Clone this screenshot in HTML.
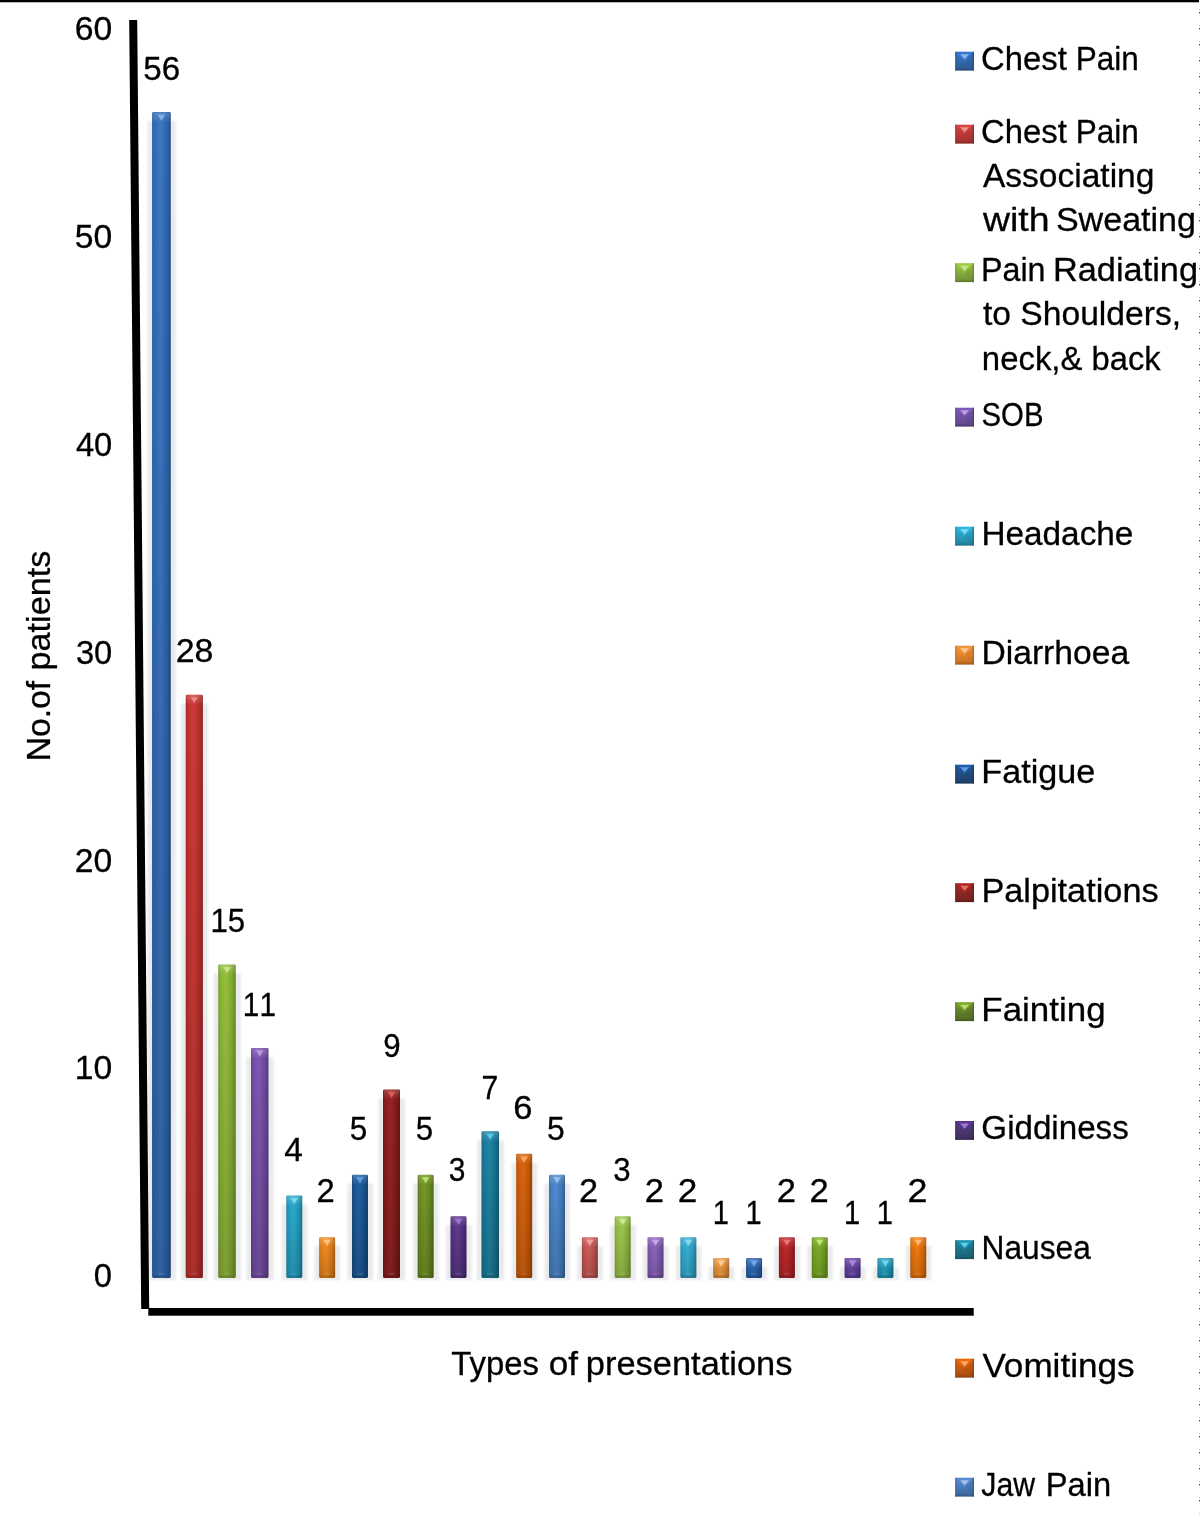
<!DOCTYPE html>
<html lang="en"><head><meta charset="utf-8"><title>Types of presentations</title>
<style>html,body{margin:0;padding:0;background:#fff}svg{display:block}</style></head>
<body>
<svg width="1200" height="1514" viewBox="0 0 1200 1514">
<defs>
<filter id="bl" x="-50%" y="-5%" width="200%" height="110%"><feGaussianBlur stdDeviation="1.3 1.1"/></filter>
<linearGradient id="g0" x1="0" y1="0" x2="1" y2="0"><stop offset="0" stop-color="#2a5d9e"/><stop offset="0.12" stop-color="#306ab5"/><stop offset="0.45" stop-color="#3b77c3"/><stop offset="0.8" stop-color="#2d63aa"/><stop offset="1" stop-color="#244f87"/></linearGradient>
<linearGradient id="g1" x1="0" y1="0" x2="1" y2="0"><stop offset="0" stop-color="#a72a27"/><stop offset="0.12" stop-color="#c0302d"/><stop offset="0.45" stop-color="#ce3b38"/><stop offset="0.8" stop-color="#b42d2a"/><stop offset="1" stop-color="#8f2422"/></linearGradient>
<linearGradient id="g2" x1="0" y1="0" x2="1" y2="0"><stop offset="0" stop-color="#789b2d"/><stop offset="0.12" stop-color="#89b234"/><stop offset="0.45" stop-color="#96c03f"/><stop offset="0.8" stop-color="#80a630"/><stop offset="1" stop-color="#668426"/></linearGradient>
<linearGradient id="g3" x1="0" y1="0" x2="1" y2="0"><stop offset="0" stop-color="#654290"/><stop offset="0.12" stop-color="#744ca5"/><stop offset="0.45" stop-color="#8058b3"/><stop offset="0.8" stop-color="#6c479b"/><stop offset="1" stop-color="#56397b"/></linearGradient>
<linearGradient id="g4" x1="0" y1="0" x2="1" y2="0"><stop offset="0" stop-color="#1e8aa8"/><stop offset="0.12" stop-color="#229ec1"/><stop offset="0.45" stop-color="#2dabcf"/><stop offset="0.8" stop-color="#2094b4"/><stop offset="1" stop-color="#197690"/></linearGradient>
<linearGradient id="g5" x1="0" y1="0" x2="1" y2="0"><stop offset="0" stop-color="#c97116"/><stop offset="0.12" stop-color="#e68219"/><stop offset="0.45" stop-color="#f58f24"/><stop offset="0.8" stop-color="#d87918"/><stop offset="1" stop-color="#ac6113"/></linearGradient>
<linearGradient id="g6" x1="0" y1="0" x2="1" y2="0"><stop offset="0" stop-color="#154a7f"/><stop offset="0.12" stop-color="#185592"/><stop offset="0.45" stop-color="#23619f"/><stop offset="0.8" stop-color="#174f88"/><stop offset="1" stop-color="#123f6c"/></linearGradient>
<linearGradient id="g7" x1="0" y1="0" x2="1" y2="0"><stop offset="0" stop-color="#791818"/><stop offset="0.12" stop-color="#8a1b1b"/><stop offset="0.45" stop-color="#972626"/><stop offset="0.8" stop-color="#811a1a"/><stop offset="1" stop-color="#671414"/></linearGradient>
<linearGradient id="g8" x1="0" y1="0" x2="1" y2="0"><stop offset="0" stop-color="#5d7b1c"/><stop offset="0.12" stop-color="#6a8d20"/><stop offset="0.45" stop-color="#779a2b"/><stop offset="0.8" stop-color="#63841e"/><stop offset="1" stop-color="#4f6918"/></linearGradient>
<linearGradient id="g9" x1="0" y1="0" x2="1" y2="0"><stop offset="0" stop-color="#492b72"/><stop offset="0.12" stop-color="#543183"/><stop offset="0.45" stop-color="#603c90"/><stop offset="0.8" stop-color="#4e2e7a"/><stop offset="1" stop-color="#3e2461"/></linearGradient>
<linearGradient id="g10" x1="0" y1="0" x2="1" y2="0"><stop offset="0" stop-color="#146b85"/><stop offset="0.12" stop-color="#187a98"/><stop offset="0.45" stop-color="#2287a6"/><stop offset="0.8" stop-color="#16728f"/><stop offset="1" stop-color="#125b71"/></linearGradient>
<linearGradient id="g11" x1="0" y1="0" x2="1" y2="0"><stop offset="0" stop-color="#b45007"/><stop offset="0.12" stop-color="#ce5b08"/><stop offset="0.45" stop-color="#dc6712"/><stop offset="0.8" stop-color="#c15507"/><stop offset="1" stop-color="#994406"/></linearGradient>
<linearGradient id="g12" x1="0" y1="0" x2="1" y2="0"><stop offset="0" stop-color="#3c70aa"/><stop offset="0.12" stop-color="#4580c3"/><stop offset="0.45" stop-color="#508dd1"/><stop offset="0.8" stop-color="#4078b6"/><stop offset="1" stop-color="#335f91"/></linearGradient>
<linearGradient id="g13" x1="0" y1="0" x2="1" y2="0"><stop offset="0" stop-color="#aa4a46"/><stop offset="0.12" stop-color="#c35550"/><stop offset="0.45" stop-color="#d1615c"/><stop offset="0.8" stop-color="#b64f4b"/><stop offset="1" stop-color="#913f3b"/></linearGradient>
<linearGradient id="g14" x1="0" y1="0" x2="1" y2="0"><stop offset="0" stop-color="#82a53a"/><stop offset="0.12" stop-color="#95bd43"/><stop offset="0.45" stop-color="#a2cb4e"/><stop offset="0.8" stop-color="#8bb13e"/><stop offset="1" stop-color="#6f8d32"/></linearGradient>
<linearGradient id="g15" x1="0" y1="0" x2="1" y2="0"><stop offset="0" stop-color="#72509d"/><stop offset="0.12" stop-color="#835bb4"/><stop offset="0.45" stop-color="#9067c2"/><stop offset="0.8" stop-color="#7a55a8"/><stop offset="1" stop-color="#614486"/></linearGradient>
<linearGradient id="g16" x1="0" y1="0" x2="1" y2="0"><stop offset="0" stop-color="#2891b0"/><stop offset="0.12" stop-color="#2ea6ca"/><stop offset="0.45" stop-color="#39b4d9"/><stop offset="0.8" stop-color="#2b9cbd"/><stop offset="1" stop-color="#227c96"/></linearGradient>
<linearGradient id="g17" x1="0" y1="0" x2="1" y2="0"><stop offset="0" stop-color="#ca7e30"/><stop offset="0.12" stop-color="#e79137"/><stop offset="0.45" stop-color="#f69e42"/><stop offset="0.8" stop-color="#d88833"/><stop offset="1" stop-color="#ac6c29"/></linearGradient>
<linearGradient id="g18" x1="0" y1="0" x2="1" y2="0"><stop offset="0" stop-color="#215496"/><stop offset="0.12" stop-color="#2661ac"/><stop offset="0.45" stop-color="#316dba"/><stop offset="0.8" stop-color="#235ba1"/><stop offset="1" stop-color="#1c4880"/></linearGradient>
<linearGradient id="g19" x1="0" y1="0" x2="1" y2="0"><stop offset="0" stop-color="#9d1d1e"/><stop offset="0.12" stop-color="#b42123"/><stop offset="0.45" stop-color="#c22c2e"/><stop offset="0.8" stop-color="#a81f21"/><stop offset="1" stop-color="#86181a"/></linearGradient>
<linearGradient id="g20" x1="0" y1="0" x2="1" y2="0"><stop offset="0" stop-color="#668f1c"/><stop offset="0.12" stop-color="#75a420"/><stop offset="0.45" stop-color="#81b12b"/><stop offset="0.8" stop-color="#6d991e"/><stop offset="1" stop-color="#577a18"/></linearGradient>
<linearGradient id="g21" x1="0" y1="0" x2="1" y2="0"><stop offset="0" stop-color="#553589"/><stop offset="0.12" stop-color="#623d9d"/><stop offset="0.45" stop-color="#6e49ab"/><stop offset="0.8" stop-color="#5c3993"/><stop offset="1" stop-color="#492e75"/></linearGradient>
<linearGradient id="g22" x1="0" y1="0" x2="1" y2="0"><stop offset="0" stop-color="#1983a0"/><stop offset="0.12" stop-color="#1c96b7"/><stop offset="0.45" stop-color="#27a4c5"/><stop offset="0.8" stop-color="#1a8dac"/><stop offset="1" stop-color="#157088"/></linearGradient>
<linearGradient id="g23" x1="0" y1="0" x2="1" y2="0"><stop offset="0" stop-color="#ca6407"/><stop offset="0.12" stop-color="#e77308"/><stop offset="0.45" stop-color="#f67f12"/><stop offset="0.8" stop-color="#d86b07"/><stop offset="1" stop-color="#ac5506"/></linearGradient>
<linearGradient id="vd" x1="0" y1="0" x2="0" y2="1"><stop offset="0" stop-color="#000" stop-opacity="0"/><stop offset="0.15" stop-color="#000" stop-opacity="0.02"/><stop offset="1" stop-color="#000" stop-opacity="0.17"/></linearGradient>
<linearGradient id="tf" x1="0" y1="0" x2="0" y2="1"><stop offset="0" stop-color="#fff" stop-opacity="0.2"/><stop offset="1" stop-color="#fff" stop-opacity="0"/></linearGradient>
<filter id="sb2" x="-30%" y="-30%" width="160%" height="160%"><feGaussianBlur stdDeviation="0.75"/></filter>
<filter id="sb" x="-30%" y="-30%" width="160%" height="160%"><feGaussianBlur stdDeviation="0.7"/></filter>
</defs>
<rect width="1200" height="1514" fill="#fff"/>
<rect x="0" y="0" width="1199" height="2.3" fill="#000"/>
<g><rect x="1199" y="9" width="1" height="1" fill="#9ed9cc"/><rect x="1199" y="12" width="1" height="1.2" fill="#5e1f40"/><rect x="1199" y="25" width="1" height="1" fill="#9ed9cc"/><rect x="1199" y="28" width="1" height="1.2" fill="#5e1f40"/><rect x="1199" y="41" width="1" height="1" fill="#9ed9cc"/><rect x="1199" y="44" width="1" height="1.2" fill="#5e1f40"/><rect x="1199" y="57" width="1" height="1" fill="#9ed9cc"/><rect x="1199" y="60" width="1" height="1.2" fill="#5e1f40"/><rect x="1199" y="73" width="1" height="1" fill="#9ed9cc"/><rect x="1199" y="76" width="1" height="1.2" fill="#5e1f40"/><rect x="1199" y="89" width="1" height="1" fill="#9ed9cc"/><rect x="1199" y="92" width="1" height="1.2" fill="#5e1f40"/><rect x="1199" y="105" width="1" height="1" fill="#9ed9cc"/><rect x="1199" y="108" width="1" height="1.2" fill="#5e1f40"/><rect x="1199" y="121" width="1" height="1" fill="#9ed9cc"/><rect x="1199" y="124" width="1" height="1.2" fill="#5e1f40"/><rect x="1199" y="137" width="1" height="1" fill="#9ed9cc"/><rect x="1199" y="140" width="1" height="1.2" fill="#5e1f40"/><rect x="1199" y="153" width="1" height="1" fill="#9ed9cc"/><rect x="1199" y="156" width="1" height="1.2" fill="#5e1f40"/><rect x="1199" y="169" width="1" height="1" fill="#9ed9cc"/><rect x="1199" y="172" width="1" height="1.2" fill="#5e1f40"/><rect x="1199" y="185" width="1" height="1" fill="#9ed9cc"/><rect x="1199" y="188" width="1" height="1.2" fill="#5e1f40"/><rect x="1199" y="201" width="1" height="1" fill="#9ed9cc"/><rect x="1199" y="204" width="1" height="1.2" fill="#5e1f40"/><rect x="1199" y="217" width="1" height="1" fill="#9ed9cc"/><rect x="1199" y="220" width="1" height="1.2" fill="#5e1f40"/><rect x="1199" y="233" width="1" height="1" fill="#9ed9cc"/><rect x="1199" y="236" width="1" height="1.2" fill="#5e1f40"/><rect x="1199" y="249" width="1" height="1" fill="#9ed9cc"/><rect x="1199" y="252" width="1" height="1.2" fill="#5e1f40"/><rect x="1199" y="265" width="1" height="1" fill="#9ed9cc"/><rect x="1199" y="268" width="1" height="1.2" fill="#5e1f40"/><rect x="1199" y="281" width="1" height="1" fill="#9ed9cc"/><rect x="1199" y="284" width="1" height="1.2" fill="#5e1f40"/><rect x="1199" y="297" width="1" height="1" fill="#9ed9cc"/><rect x="1199" y="300" width="1" height="1.2" fill="#5e1f40"/><rect x="1199" y="313" width="1" height="1" fill="#9ed9cc"/><rect x="1199" y="316" width="1" height="1.2" fill="#5e1f40"/><rect x="1199" y="329" width="1" height="1" fill="#9ed9cc"/><rect x="1199" y="332" width="1" height="1.2" fill="#5e1f40"/><rect x="1199" y="345" width="1" height="1" fill="#9ed9cc"/><rect x="1199" y="348" width="1" height="1.2" fill="#5e1f40"/><rect x="1199" y="361" width="1" height="1" fill="#9ed9cc"/><rect x="1199" y="364" width="1" height="1.2" fill="#5e1f40"/><rect x="1199" y="377" width="1" height="1" fill="#9ed9cc"/><rect x="1199" y="380" width="1" height="1.2" fill="#5e1f40"/><rect x="1199" y="393" width="1" height="1" fill="#9ed9cc"/><rect x="1199" y="396" width="1" height="1.2" fill="#5e1f40"/><rect x="1199" y="409" width="1" height="1" fill="#9ed9cc"/><rect x="1199" y="412" width="1" height="1.2" fill="#5e1f40"/><rect x="1199" y="425" width="1" height="1" fill="#9ed9cc"/><rect x="1199" y="428" width="1" height="1.2" fill="#5e1f40"/><rect x="1199" y="441" width="1" height="1" fill="#9ed9cc"/><rect x="1199" y="444" width="1" height="1.2" fill="#5e1f40"/><rect x="1199" y="457" width="1" height="1" fill="#9ed9cc"/><rect x="1199" y="460" width="1" height="1.2" fill="#5e1f40"/><rect x="1199" y="473" width="1" height="1" fill="#9ed9cc"/><rect x="1199" y="476" width="1" height="1.2" fill="#5e1f40"/><rect x="1199" y="489" width="1" height="1" fill="#9ed9cc"/><rect x="1199" y="492" width="1" height="1.2" fill="#5e1f40"/><rect x="1199" y="505" width="1" height="1" fill="#9ed9cc"/><rect x="1199" y="508" width="1" height="1.2" fill="#5e1f40"/><rect x="1199" y="521" width="1" height="1" fill="#9ed9cc"/><rect x="1199" y="524" width="1" height="1.2" fill="#5e1f40"/><rect x="1199" y="537" width="1" height="1" fill="#9ed9cc"/><rect x="1199" y="540" width="1" height="1.2" fill="#5e1f40"/><rect x="1199" y="553" width="1" height="1" fill="#9ed9cc"/><rect x="1199" y="556" width="1" height="1.2" fill="#5e1f40"/><rect x="1199" y="569" width="1" height="1" fill="#9ed9cc"/><rect x="1199" y="572" width="1" height="1.2" fill="#5e1f40"/><rect x="1199" y="585" width="1" height="1" fill="#9ed9cc"/><rect x="1199" y="588" width="1" height="1.2" fill="#5e1f40"/><rect x="1199" y="601" width="1" height="1" fill="#9ed9cc"/><rect x="1199" y="604" width="1" height="1.2" fill="#5e1f40"/><rect x="1199" y="617" width="1" height="1" fill="#9ed9cc"/><rect x="1199" y="620" width="1" height="1.2" fill="#5e1f40"/><rect x="1199" y="633" width="1" height="1" fill="#9ed9cc"/><rect x="1199" y="636" width="1" height="1.2" fill="#5e1f40"/><rect x="1199" y="649" width="1" height="1" fill="#9ed9cc"/><rect x="1199" y="652" width="1" height="1.2" fill="#5e1f40"/><rect x="1199" y="665" width="1" height="1" fill="#9ed9cc"/><rect x="1199" y="668" width="1" height="1.2" fill="#5e1f40"/><rect x="1199" y="681" width="1" height="1" fill="#9ed9cc"/><rect x="1199" y="684" width="1" height="1.2" fill="#5e1f40"/><rect x="1199" y="697" width="1" height="1" fill="#9ed9cc"/><rect x="1199" y="700" width="1" height="1.2" fill="#5e1f40"/><rect x="1199" y="713" width="1" height="1" fill="#9ed9cc"/><rect x="1199" y="716" width="1" height="1.2" fill="#5e1f40"/><rect x="1199" y="729" width="1" height="1" fill="#9ed9cc"/><rect x="1199" y="732" width="1" height="1.2" fill="#5e1f40"/><rect x="1199" y="745" width="1" height="1" fill="#9ed9cc"/><rect x="1199" y="748" width="1" height="1.2" fill="#5e1f40"/><rect x="1199" y="761" width="1" height="1" fill="#9ed9cc"/><rect x="1199" y="764" width="1" height="1.2" fill="#5e1f40"/><rect x="1199" y="777" width="1" height="1" fill="#9ed9cc"/><rect x="1199" y="780" width="1" height="1.2" fill="#5e1f40"/><rect x="1199" y="793" width="1" height="1" fill="#9ed9cc"/><rect x="1199" y="796" width="1" height="1.2" fill="#5e1f40"/><rect x="1199" y="809" width="1" height="1" fill="#9ed9cc"/><rect x="1199" y="812" width="1" height="1.2" fill="#5e1f40"/><rect x="1199" y="825" width="1" height="1" fill="#9ed9cc"/><rect x="1199" y="828" width="1" height="1.2" fill="#5e1f40"/><rect x="1199" y="841" width="1" height="1" fill="#9ed9cc"/><rect x="1199" y="844" width="1" height="1.2" fill="#5e1f40"/><rect x="1199" y="857" width="1" height="1" fill="#9ed9cc"/><rect x="1199" y="860" width="1" height="1.2" fill="#5e1f40"/><rect x="1199" y="873" width="1" height="1" fill="#9ed9cc"/><rect x="1199" y="876" width="1" height="1.2" fill="#5e1f40"/><rect x="1199" y="889" width="1" height="1" fill="#9ed9cc"/><rect x="1199" y="892" width="1" height="1.2" fill="#5e1f40"/><rect x="1199" y="905" width="1" height="1" fill="#9ed9cc"/><rect x="1199" y="908" width="1" height="1.2" fill="#5e1f40"/><rect x="1199" y="921" width="1" height="1" fill="#9ed9cc"/><rect x="1199" y="924" width="1" height="1.2" fill="#5e1f40"/><rect x="1199" y="937" width="1" height="1" fill="#9ed9cc"/><rect x="1199" y="940" width="1" height="1.2" fill="#5e1f40"/><rect x="1199" y="953" width="1" height="1" fill="#9ed9cc"/><rect x="1199" y="956" width="1" height="1.2" fill="#5e1f40"/><rect x="1199" y="969" width="1" height="1" fill="#9ed9cc"/><rect x="1199" y="972" width="1" height="1.2" fill="#5e1f40"/><rect x="1199" y="985" width="1" height="1" fill="#9ed9cc"/><rect x="1199" y="988" width="1" height="1.2" fill="#5e1f40"/><rect x="1199" y="1001" width="1" height="1" fill="#9ed9cc"/><rect x="1199" y="1004" width="1" height="1.2" fill="#5e1f40"/><rect x="1199" y="1017" width="1" height="1" fill="#9ed9cc"/><rect x="1199" y="1020" width="1" height="1.2" fill="#5e1f40"/><rect x="1199" y="1033" width="1" height="1" fill="#9ed9cc"/><rect x="1199" y="1036" width="1" height="1.2" fill="#5e1f40"/><rect x="1199" y="1049" width="1" height="1" fill="#9ed9cc"/><rect x="1199" y="1052" width="1" height="1.2" fill="#5e1f40"/><rect x="1199" y="1065" width="1" height="1" fill="#9ed9cc"/><rect x="1199" y="1068" width="1" height="1.2" fill="#5e1f40"/><rect x="1199" y="1081" width="1" height="1" fill="#9ed9cc"/><rect x="1199" y="1084" width="1" height="1.2" fill="#5e1f40"/><rect x="1199" y="1097" width="1" height="1" fill="#9ed9cc"/><rect x="1199" y="1100" width="1" height="1.2" fill="#5e1f40"/><rect x="1199" y="1113" width="1" height="1" fill="#9ed9cc"/><rect x="1199" y="1116" width="1" height="1.2" fill="#5e1f40"/><rect x="1199" y="1129" width="1" height="1" fill="#9ed9cc"/><rect x="1199" y="1132" width="1" height="1.2" fill="#5e1f40"/><rect x="1199" y="1145" width="1" height="1" fill="#9ed9cc"/><rect x="1199" y="1148" width="1" height="1.2" fill="#5e1f40"/><rect x="1199" y="1161" width="1" height="1" fill="#9ed9cc"/><rect x="1199" y="1164" width="1" height="1.2" fill="#5e1f40"/><rect x="1199" y="1177" width="1" height="1" fill="#9ed9cc"/><rect x="1199" y="1180" width="1" height="1.2" fill="#5e1f40"/><rect x="1199" y="1193" width="1" height="1" fill="#9ed9cc"/><rect x="1199" y="1196" width="1" height="1.2" fill="#5e1f40"/><rect x="1199" y="1209" width="1" height="1" fill="#9ed9cc"/><rect x="1199" y="1212" width="1" height="1.2" fill="#5e1f40"/><rect x="1199" y="1225" width="1" height="1" fill="#9ed9cc"/><rect x="1199" y="1228" width="1" height="1.2" fill="#5e1f40"/><rect x="1199" y="1241" width="1" height="1" fill="#9ed9cc"/><rect x="1199" y="1244" width="1" height="1.2" fill="#5e1f40"/><rect x="1199" y="1257" width="1" height="1" fill="#9ed9cc"/><rect x="1199" y="1260" width="1" height="1.2" fill="#5e1f40"/><rect x="1199" y="1273" width="1" height="1" fill="#9ed9cc"/><rect x="1199" y="1276" width="1" height="1.2" fill="#5e1f40"/><rect x="1199" y="1289" width="1" height="1" fill="#9ed9cc"/><rect x="1199" y="1292" width="1" height="1.2" fill="#5e1f40"/><rect x="1199" y="1305" width="1" height="1" fill="#9ed9cc"/><rect x="1199" y="1308" width="1" height="1.2" fill="#5e1f40"/><rect x="1199" y="1321" width="1" height="1" fill="#9ed9cc"/><rect x="1199" y="1324" width="1" height="1.2" fill="#5e1f40"/><rect x="1199" y="1337" width="1" height="1" fill="#9ed9cc"/><rect x="1199" y="1340" width="1" height="1.2" fill="#5e1f40"/><rect x="1199" y="1353" width="1" height="1" fill="#9ed9cc"/><rect x="1199" y="1356" width="1" height="1.2" fill="#5e1f40"/><rect x="1199" y="1369" width="1" height="1" fill="#9ed9cc"/><rect x="1199" y="1372" width="1" height="1.2" fill="#5e1f40"/><rect x="1199" y="1385" width="1" height="1" fill="#9ed9cc"/><rect x="1199" y="1388" width="1" height="1.2" fill="#5e1f40"/><rect x="1199" y="1401" width="1" height="1" fill="#9ed9cc"/><rect x="1199" y="1404" width="1" height="1.2" fill="#5e1f40"/><rect x="1199" y="1417" width="1" height="1" fill="#9ed9cc"/><rect x="1199" y="1420" width="1" height="1.2" fill="#5e1f40"/><rect x="1199" y="1433" width="1" height="1" fill="#9ed9cc"/><rect x="1199" y="1436" width="1" height="1.2" fill="#5e1f40"/><rect x="1199" y="1449" width="1" height="1" fill="#9ed9cc"/><rect x="1199" y="1452" width="1" height="1.2" fill="#5e1f40"/><rect x="1199" y="1465" width="1" height="1" fill="#9ed9cc"/><rect x="1199" y="1468" width="1" height="1.2" fill="#5e1f40"/><rect x="1199" y="1481" width="1" height="1" fill="#9ed9cc"/><rect x="1199" y="1484" width="1" height="1.2" fill="#5e1f40"/><rect x="1199" y="1497" width="1" height="1" fill="#9ed9cc"/><rect x="1199" y="1500" width="1" height="1.2" fill="#5e1f40"/><rect x="1199" y="1513" width="1" height="1" fill="#9ed9cc"/><rect x="1199" y="1516" width="1" height="1.2" fill="#5e1f40"/></g>
<g filter="url(#bl)" fill="#e9eaec">
<rect x="147.60" y="121.10" width="28.20" height="1159.10"/>
<rect x="181.20" y="703.70" width="26.70" height="576.50"/>
<rect x="213.75" y="973.40" width="27.00" height="306.80"/>
<rect x="246.50" y="1057.00" width="27.00" height="223.20"/>
<rect x="281.80" y="1204.47" width="25.50" height="75.73"/>
<rect x="314.64" y="1246.13" width="25.50" height="34.07"/>
<rect x="347.48" y="1183.63" width="25.50" height="96.57"/>
<rect x="378.50" y="1098.40" width="26.50" height="181.80"/>
<rect x="413.16" y="1183.63" width="25.50" height="96.57"/>
<rect x="446.00" y="1225.30" width="25.50" height="54.90"/>
<rect x="477.00" y="1140.20" width="27.00" height="140.00"/>
<rect x="511.68" y="1162.80" width="25.50" height="117.40"/>
<rect x="544.52" y="1183.63" width="25.50" height="96.57"/>
<rect x="577.36" y="1246.13" width="25.50" height="34.07"/>
<rect x="610.20" y="1225.30" width="25.50" height="54.90"/>
<rect x="643.04" y="1246.13" width="25.50" height="34.07"/>
<rect x="675.88" y="1246.13" width="25.50" height="34.07"/>
<rect x="708.72" y="1266.97" width="25.50" height="13.23"/>
<rect x="741.56" y="1266.97" width="25.50" height="13.23"/>
<rect x="774.40" y="1246.13" width="25.50" height="34.07"/>
<rect x="807.24" y="1246.13" width="25.50" height="34.07"/>
<rect x="840.08" y="1266.97" width="25.50" height="13.23"/>
<rect x="872.92" y="1266.97" width="25.50" height="13.23"/>
<rect x="905.76" y="1246.13" width="25.50" height="34.07"/>
</g>
<path d="M153.50 112.10 H169.40 Q170.80 112.10 170.80 113.50 V1276.60 Q170.80 1278.00 169.40 1278.00 H153.50 Q152.10 1278.00 152.10 1276.60 V113.50 Q152.10 112.10 153.50 112.10 Z" fill="url(#g0)"/>
<path d="M153.50 112.10 H169.40 Q170.80 112.10 170.80 113.50 V1276.60 Q170.80 1278.00 169.40 1278.00 H153.50 Q152.10 1278.00 152.10 1276.60 V113.50 Q152.10 112.10 153.50 112.10 Z" fill="url(#vd)"/>
<rect x="152.70" y="112.50" width="17.50" height="10.00" fill="url(#tf)"/>
<path d="M157.65 114.70 L165.25 114.70 L161.45 120.70 Z" fill="#89b5ed" opacity="0.9" filter="url(#sb2)"/>
<rect x="158.45" y="1273.40" width="6" height="1" fill="#fff" opacity="0.18"/>
<rect x="152.90" y="1275.60" width="17.10" height="2.0" fill="#1f4474" opacity="0.45"/>
<path d="M187.10 694.70 H201.50 Q202.90 694.70 202.90 696.10 V1276.60 Q202.90 1278.00 201.50 1278.00 H187.10 Q185.70 1278.00 185.70 1276.60 V696.10 Q185.70 694.70 187.10 694.70 Z" fill="url(#g1)"/>
<path d="M187.10 694.70 H201.50 Q202.90 694.70 202.90 696.10 V1276.60 Q202.90 1278.00 201.50 1278.00 H187.10 Q185.70 1278.00 185.70 1276.60 V696.10 Q185.70 694.70 187.10 694.70 Z" fill="url(#vd)"/>
<rect x="186.30" y="695.10" width="16.00" height="10.00" fill="url(#tf)"/>
<path d="M190.50 697.30 L198.10 697.30 L194.30 703.30 Z" fill="#f08e8c" opacity="0.9" filter="url(#sb2)"/>
<rect x="191.30" y="1273.40" width="6" height="1" fill="#fff" opacity="0.18"/>
<rect x="186.50" y="1275.60" width="15.60" height="2.0" fill="#7a1f1d" opacity="0.45"/>
<path d="M219.65 964.40 H234.35 Q235.75 964.40 235.75 965.80 V1276.60 Q235.75 1278.00 234.35 1278.00 H219.65 Q218.25 1278.00 218.25 1276.60 V965.80 Q218.25 964.40 219.65 964.40 Z" fill="url(#g2)"/>
<path d="M219.65 964.40 H234.35 Q235.75 964.40 235.75 965.80 V1276.60 Q235.75 1278.00 234.35 1278.00 H219.65 Q218.25 1278.00 218.25 1276.60 V965.80 Q218.25 964.40 219.65 964.40 Z" fill="url(#vd)"/>
<rect x="218.85" y="964.80" width="16.30" height="10.00" fill="url(#tf)"/>
<path d="M223.20 967.00 L230.80 967.00 L227.00 973.00 Z" fill="#cceb8c" opacity="0.9" filter="url(#sb2)"/>
<rect x="224.00" y="1273.40" width="6" height="1" fill="#fff" opacity="0.18"/>
<rect x="219.05" y="1275.60" width="15.90" height="2.0" fill="#587121" opacity="0.45"/>
<path d="M252.40 1048.00 H267.10 Q268.50 1048.00 268.50 1049.40 V1276.60 Q268.50 1278.00 267.10 1278.00 H252.40 Q251.00 1278.00 251.00 1276.60 V1049.40 Q251.00 1048.00 252.40 1048.00 Z" fill="url(#g3)"/>
<path d="M252.40 1048.00 H267.10 Q268.50 1048.00 268.50 1049.40 V1276.60 Q268.50 1278.00 267.10 1278.00 H252.40 Q251.00 1278.00 251.00 1276.60 V1049.40 Q251.00 1048.00 252.40 1048.00 Z" fill="url(#vd)"/>
<rect x="251.60" y="1048.40" width="16.30" height="10.00" fill="url(#tf)"/>
<path d="M255.95 1050.60 L263.55 1050.60 L259.75 1056.60 Z" fill="#bc9ee1" opacity="0.9" filter="url(#sb2)"/>
<rect x="256.75" y="1273.40" width="6" height="1" fill="#fff" opacity="0.18"/>
<rect x="251.80" y="1275.60" width="15.90" height="2.0" fill="#4a316a" opacity="0.45"/>
<path d="M287.70 1195.47 H300.90 Q302.30 1195.47 302.30 1196.87 V1276.60 Q302.30 1278.00 300.90 1278.00 H287.70 Q286.30 1278.00 286.30 1276.60 V1196.87 Q286.30 1195.47 287.70 1195.47 Z" fill="url(#g4)"/>
<path d="M287.70 1195.47 H300.90 Q302.30 1195.47 302.30 1196.87 V1276.60 Q302.30 1278.00 300.90 1278.00 H287.70 Q286.30 1278.00 286.30 1276.60 V1196.87 Q286.30 1195.47 287.70 1195.47 Z" fill="url(#vd)"/>
<rect x="286.90" y="1195.87" width="14.80" height="10.00" fill="url(#tf)"/>
<path d="M290.50 1198.07 L298.10 1198.07 L294.30 1204.07 Z" fill="#7fdbf4" opacity="0.9" filter="url(#sb2)"/>
<rect x="291.30" y="1273.40" width="6" height="1" fill="#fff" opacity="0.18"/>
<rect x="287.10" y="1275.60" width="14.40" height="2.0" fill="#16657b" opacity="0.45"/>
<path d="M320.54 1237.13 H333.74 Q335.14 1237.13 335.14 1238.53 V1276.60 Q335.14 1278.00 333.74 1278.00 H320.54 Q319.14 1278.00 319.14 1276.60 V1238.53 Q319.14 1237.13 320.54 1237.13 Z" fill="url(#g5)"/>
<path d="M320.54 1237.13 H333.74 Q335.14 1237.13 335.14 1238.53 V1276.60 Q335.14 1278.00 333.74 1278.00 H320.54 Q319.14 1278.00 319.14 1276.60 V1238.53 Q319.14 1237.13 320.54 1237.13 Z" fill="url(#vd)"/>
<rect x="319.74" y="1237.53" width="14.80" height="10.00" fill="url(#tf)"/>
<path d="M323.34 1239.73 L330.94 1239.73 L327.14 1245.73 Z" fill="#ffc68a" opacity="0.9" filter="url(#sb2)"/>
<rect x="324.14" y="1273.40" width="6" height="1" fill="#fff" opacity="0.18"/>
<rect x="319.94" y="1275.60" width="14.40" height="2.0" fill="#935310" opacity="0.45"/>
<path d="M353.38 1174.63 H366.58 Q367.98 1174.63 367.98 1176.04 V1276.60 Q367.98 1278.00 366.58 1278.00 H353.38 Q351.98 1278.00 351.98 1276.60 V1176.04 Q351.98 1174.63 353.38 1174.63 Z" fill="url(#g6)"/>
<path d="M353.38 1174.63 H366.58 Q367.98 1174.63 367.98 1176.04 V1276.60 Q367.98 1278.00 366.58 1278.00 H353.38 Q351.98 1278.00 351.98 1276.60 V1176.04 Q351.98 1174.63 353.38 1174.63 Z" fill="url(#vd)"/>
<rect x="352.58" y="1175.04" width="14.80" height="10.00" fill="url(#tf)"/>
<path d="M356.18 1177.23 L363.78 1177.23 L359.98 1183.23 Z" fill="#58a4f1" opacity="0.9" filter="url(#sb2)"/>
<rect x="356.98" y="1273.40" width="6" height="1" fill="#fff" opacity="0.18"/>
<rect x="352.78" y="1275.60" width="14.40" height="2.0" fill="#10365d" opacity="0.45"/>
<path d="M384.40 1089.40 H398.60 Q400.00 1089.40 400.00 1090.80 V1276.60 Q400.00 1278.00 398.60 1278.00 H384.40 Q383.00 1278.00 383.00 1276.60 V1090.80 Q383.00 1089.40 384.40 1089.40 Z" fill="url(#g7)"/>
<path d="M384.40 1089.40 H398.60 Q400.00 1089.40 400.00 1090.80 V1276.60 Q400.00 1278.00 398.60 1278.00 H384.40 Q383.00 1278.00 383.00 1276.60 V1090.80 Q383.00 1089.40 384.40 1089.40 Z" fill="url(#vd)"/>
<rect x="383.60" y="1089.80" width="15.80" height="10.00" fill="url(#tf)"/>
<path d="M387.70 1092.00 L395.30 1092.00 L391.50 1098.00 Z" fill="#ea5c5c" opacity="0.9" filter="url(#sb2)"/>
<rect x="388.50" y="1273.40" width="6" height="1" fill="#fff" opacity="0.18"/>
<rect x="383.80" y="1275.60" width="15.40" height="2.0" fill="#581111" opacity="0.45"/>
<path d="M419.06 1174.63 H432.26 Q433.66 1174.63 433.66 1176.04 V1276.60 Q433.66 1278.00 432.26 1278.00 H419.06 Q417.66 1278.00 417.66 1276.60 V1176.04 Q417.66 1174.63 419.06 1174.63 Z" fill="url(#g8)"/>
<path d="M419.06 1174.63 H432.26 Q433.66 1174.63 433.66 1176.04 V1276.60 Q433.66 1278.00 432.26 1278.00 H419.06 Q417.66 1278.00 417.66 1276.60 V1176.04 Q417.66 1174.63 419.06 1174.63 Z" fill="url(#vd)"/>
<rect x="418.26" y="1175.04" width="14.80" height="10.00" fill="url(#tf)"/>
<path d="M421.86 1177.23 L429.46 1177.23 L425.66 1183.23 Z" fill="#bfeb60" opacity="0.9" filter="url(#sb2)"/>
<rect x="422.66" y="1273.40" width="6" height="1" fill="#fff" opacity="0.18"/>
<rect x="418.46" y="1275.60" width="14.40" height="2.0" fill="#445a14" opacity="0.45"/>
<path d="M451.90 1216.30 H465.10 Q466.50 1216.30 466.50 1217.70 V1276.60 Q466.50 1278.00 465.10 1278.00 H451.90 Q450.50 1278.00 450.50 1276.60 V1217.70 Q450.50 1216.30 451.90 1216.30 Z" fill="url(#g9)"/>
<path d="M451.90 1216.30 H465.10 Q466.50 1216.30 466.50 1217.70 V1276.60 Q466.50 1278.00 465.10 1278.00 H451.90 Q450.50 1278.00 450.50 1276.60 V1217.70 Q450.50 1216.30 451.90 1216.30 Z" fill="url(#vd)"/>
<rect x="451.10" y="1216.70" width="14.80" height="10.00" fill="url(#tf)"/>
<path d="M454.70 1218.90 L462.30 1218.90 L458.50 1224.90 Z" fill="#a074dd" opacity="0.9" filter="url(#sb2)"/>
<rect x="455.50" y="1273.40" width="6" height="1" fill="#fff" opacity="0.18"/>
<rect x="451.30" y="1275.60" width="14.40" height="2.0" fill="#351f53" opacity="0.45"/>
<path d="M482.90 1131.20 H497.60 Q499.00 1131.20 499.00 1132.60 V1276.60 Q499.00 1278.00 497.60 1278.00 H482.90 Q481.50 1278.00 481.50 1276.60 V1132.60 Q481.50 1131.20 482.90 1131.20 Z" fill="url(#g10)"/>
<path d="M482.90 1131.20 H497.60 Q499.00 1131.20 499.00 1132.60 V1276.60 Q499.00 1278.00 497.60 1278.00 H482.90 Q481.50 1278.00 481.50 1276.60 V1132.60 Q481.50 1131.20 482.90 1131.20 Z" fill="url(#vd)"/>
<rect x="482.10" y="1131.60" width="16.30" height="10.00" fill="url(#tf)"/>
<path d="M486.45 1133.80 L494.05 1133.80 L490.25 1139.80 Z" fill="#59d0f4" opacity="0.9" filter="url(#sb2)"/>
<rect x="487.25" y="1273.40" width="6" height="1" fill="#fff" opacity="0.18"/>
<rect x="482.30" y="1275.60" width="15.90" height="2.0" fill="#0f4e61" opacity="0.45"/>
<path d="M517.58 1153.80 H530.78 Q532.18 1153.80 532.18 1155.20 V1276.60 Q532.18 1278.00 530.78 1278.00 H517.58 Q516.18 1278.00 516.18 1276.60 V1155.20 Q516.18 1153.80 517.58 1153.80 Z" fill="url(#g11)"/>
<path d="M517.58 1153.80 H530.78 Q532.18 1153.80 532.18 1155.20 V1276.60 Q532.18 1278.00 530.78 1278.00 H517.58 Q516.18 1278.00 516.18 1276.60 V1155.20 Q516.18 1153.80 517.58 1153.80 Z" fill="url(#vd)"/>
<rect x="516.78" y="1154.20" width="14.80" height="10.00" fill="url(#tf)"/>
<path d="M520.38 1156.40 L527.98 1156.40 L524.18 1162.40 Z" fill="#ffaa6b" opacity="0.9" filter="url(#sb2)"/>
<rect x="521.18" y="1273.40" width="6" height="1" fill="#fff" opacity="0.18"/>
<rect x="516.98" y="1275.60" width="14.40" height="2.0" fill="#833a05" opacity="0.45"/>
<path d="M550.42 1174.63 H563.62 Q565.02 1174.63 565.02 1176.04 V1276.60 Q565.02 1278.00 563.62 1278.00 H550.42 Q549.02 1278.00 549.02 1276.60 V1176.04 Q549.02 1174.63 550.42 1174.63 Z" fill="url(#g12)"/>
<path d="M550.42 1174.63 H563.62 Q565.02 1174.63 565.02 1176.04 V1276.60 Q565.02 1278.00 563.62 1278.00 H550.42 Q549.02 1278.00 549.02 1276.60 V1176.04 Q549.02 1174.63 550.42 1174.63 Z" fill="url(#vd)"/>
<rect x="549.62" y="1175.04" width="14.80" height="10.00" fill="url(#tf)"/>
<path d="M553.22 1177.23 L560.82 1177.23 L557.02 1183.23 Z" fill="#9fc5f0" opacity="0.9" filter="url(#sb2)"/>
<rect x="554.02" y="1273.40" width="6" height="1" fill="#fff" opacity="0.18"/>
<rect x="549.82" y="1275.60" width="14.40" height="2.0" fill="#2c527c" opacity="0.45"/>
<path d="M583.26 1237.13 H596.46 Q597.86 1237.13 597.86 1238.53 V1276.60 Q597.86 1278.00 596.46 1278.00 H583.26 Q581.86 1278.00 581.86 1276.60 V1238.53 Q581.86 1237.13 583.26 1237.13 Z" fill="url(#g13)"/>
<path d="M583.26 1237.13 H596.46 Q597.86 1237.13 597.86 1238.53 V1276.60 Q597.86 1278.00 596.46 1278.00 H583.26 Q581.86 1278.00 581.86 1276.60 V1238.53 Q581.86 1237.13 583.26 1237.13 Z" fill="url(#vd)"/>
<rect x="582.46" y="1237.53" width="14.80" height="10.00" fill="url(#tf)"/>
<path d="M586.06 1239.73 L593.66 1239.73 L589.86 1245.73 Z" fill="#f0aaa8" opacity="0.9" filter="url(#sb2)"/>
<rect x="586.86" y="1273.40" width="6" height="1" fill="#fff" opacity="0.18"/>
<rect x="582.66" y="1275.60" width="14.40" height="2.0" fill="#7c3633" opacity="0.45"/>
<path d="M616.10 1216.30 H629.30 Q630.70 1216.30 630.70 1217.70 V1276.60 Q630.70 1278.00 629.30 1278.00 H616.10 Q614.70 1278.00 614.70 1276.60 V1217.70 Q614.70 1216.30 616.10 1216.30 Z" fill="url(#g14)"/>
<path d="M616.10 1216.30 H629.30 Q630.70 1216.30 630.70 1217.70 V1276.60 Q630.70 1278.00 629.30 1278.00 H616.10 Q614.70 1278.00 614.70 1276.60 V1217.70 Q614.70 1216.30 616.10 1216.30 Z" fill="url(#vd)"/>
<rect x="615.30" y="1216.70" width="14.80" height="10.00" fill="url(#tf)"/>
<path d="M618.90 1218.90 L626.50 1218.90 L622.70 1224.90 Z" fill="#d2ee9c" opacity="0.9" filter="url(#sb2)"/>
<rect x="619.70" y="1273.40" width="6" height="1" fill="#fff" opacity="0.18"/>
<rect x="615.50" y="1275.60" width="14.40" height="2.0" fill="#5f792b" opacity="0.45"/>
<path d="M648.94 1237.13 H662.14 Q663.54 1237.13 663.54 1238.53 V1276.60 Q663.54 1278.00 662.14 1278.00 H648.94 Q647.54 1278.00 647.54 1276.60 V1238.53 Q647.54 1237.13 648.94 1237.13 Z" fill="url(#g15)"/>
<path d="M648.94 1237.13 H662.14 Q663.54 1237.13 663.54 1238.53 V1276.60 Q663.54 1278.00 662.14 1278.00 H648.94 Q647.54 1278.00 647.54 1276.60 V1238.53 Q647.54 1237.13 648.94 1237.13 Z" fill="url(#vd)"/>
<rect x="648.14" y="1237.53" width="14.80" height="10.00" fill="url(#tf)"/>
<path d="M651.74 1239.73 L659.34 1239.73 L655.54 1245.73 Z" fill="#c7ace9" opacity="0.9" filter="url(#sb2)"/>
<rect x="652.54" y="1273.40" width="6" height="1" fill="#fff" opacity="0.18"/>
<rect x="648.34" y="1275.60" width="14.40" height="2.0" fill="#533a73" opacity="0.45"/>
<path d="M681.78 1237.13 H694.98 Q696.38 1237.13 696.38 1238.53 V1276.60 Q696.38 1278.00 694.98 1278.00 H681.78 Q680.38 1278.00 680.38 1276.60 V1238.53 Q680.38 1237.13 681.78 1237.13 Z" fill="url(#g16)"/>
<path d="M681.78 1237.13 H694.98 Q696.38 1237.13 696.38 1238.53 V1276.60 Q696.38 1278.00 694.98 1278.00 H681.78 Q680.38 1278.00 680.38 1276.60 V1238.53 Q680.38 1237.13 681.78 1237.13 Z" fill="url(#vd)"/>
<rect x="680.98" y="1237.53" width="14.80" height="10.00" fill="url(#tf)"/>
<path d="M684.58 1239.73 L692.18 1239.73 L688.38 1245.73 Z" fill="#90ddf4" opacity="0.9" filter="url(#sb2)"/>
<rect x="685.38" y="1273.40" width="6" height="1" fill="#fff" opacity="0.18"/>
<rect x="681.18" y="1275.60" width="14.40" height="2.0" fill="#1d6a81" opacity="0.45"/>
<path d="M714.62 1257.97 H727.82 Q729.22 1257.97 729.22 1259.37 V1276.60 Q729.22 1278.00 727.82 1278.00 H714.62 Q713.22 1278.00 713.22 1276.60 V1259.37 Q713.22 1257.97 714.62 1257.97 Z" fill="url(#g17)"/>
<path d="M714.62 1257.97 H727.82 Q729.22 1257.97 729.22 1259.37 V1276.60 Q729.22 1278.00 727.82 1278.00 H714.62 Q713.22 1278.00 713.22 1276.60 V1259.37 Q713.22 1257.97 714.62 1257.97 Z" fill="url(#vd)"/>
<rect x="713.82" y="1258.37" width="14.80" height="10.00" fill="url(#tf)"/>
<path d="M717.42 1260.57 L725.02 1260.57 L721.22 1266.57 Z" fill="#ffd1a0" opacity="0.9" filter="url(#sb2)"/>
<rect x="718.22" y="1273.40" width="6" height="1" fill="#fff" opacity="0.18"/>
<rect x="714.02" y="1275.60" width="14.40" height="2.0" fill="#945c23" opacity="0.45"/>
<path d="M747.46 1257.97 H760.66 Q762.06 1257.97 762.06 1259.37 V1276.60 Q762.06 1278.00 760.66 1278.00 H747.46 Q746.06 1278.00 746.06 1276.60 V1259.37 Q746.06 1257.97 747.46 1257.97 Z" fill="url(#g18)"/>
<path d="M747.46 1257.97 H760.66 Q762.06 1257.97 762.06 1259.37 V1276.60 Q762.06 1278.00 760.66 1278.00 H747.46 Q746.06 1278.00 746.06 1276.60 V1259.37 Q746.06 1257.97 747.46 1257.97 Z" fill="url(#vd)"/>
<rect x="746.66" y="1258.37" width="14.80" height="10.00" fill="url(#tf)"/>
<path d="M750.26 1260.57 L757.86 1260.57 L754.06 1266.57 Z" fill="#78acef" opacity="0.9" filter="url(#sb2)"/>
<rect x="751.06" y="1273.40" width="6" height="1" fill="#fff" opacity="0.18"/>
<rect x="746.86" y="1275.60" width="14.40" height="2.0" fill="#183e6e" opacity="0.45"/>
<path d="M780.30 1237.13 H793.50 Q794.90 1237.13 794.90 1238.53 V1276.60 Q794.90 1278.00 793.50 1278.00 H780.30 Q778.90 1278.00 778.90 1276.60 V1238.53 Q778.90 1237.13 780.30 1237.13 Z" fill="url(#g19)"/>
<path d="M780.30 1237.13 H793.50 Q794.90 1237.13 794.90 1238.53 V1276.60 Q794.90 1278.00 793.50 1278.00 H780.30 Q778.90 1278.00 778.90 1276.60 V1238.53 Q778.90 1237.13 780.30 1237.13 Z" fill="url(#vd)"/>
<rect x="779.50" y="1237.53" width="14.80" height="10.00" fill="url(#tf)"/>
<path d="M783.10 1239.73 L790.70 1239.73 L786.90 1245.73 Z" fill="#f37678" opacity="0.9" filter="url(#sb2)"/>
<rect x="783.90" y="1273.40" width="6" height="1" fill="#fff" opacity="0.18"/>
<rect x="779.70" y="1275.60" width="14.40" height="2.0" fill="#731516" opacity="0.45"/>
<path d="M813.14 1237.13 H826.34 Q827.74 1237.13 827.74 1238.53 V1276.60 Q827.74 1278.00 826.34 1278.00 H813.14 Q811.74 1278.00 811.74 1276.60 V1238.53 Q811.74 1237.13 813.14 1237.13 Z" fill="url(#g20)"/>
<path d="M813.14 1237.13 H826.34 Q827.74 1237.13 827.74 1238.53 V1276.60 Q827.74 1278.00 826.34 1278.00 H813.14 Q811.74 1278.00 811.74 1276.60 V1238.53 Q811.74 1237.13 813.14 1237.13 Z" fill="url(#vd)"/>
<rect x="812.34" y="1237.53" width="14.80" height="10.00" fill="url(#tf)"/>
<path d="M815.94 1239.73 L823.54 1239.73 L819.74 1245.73 Z" fill="#c1f16c" opacity="0.9" filter="url(#sb2)"/>
<rect x="816.74" y="1273.40" width="6" height="1" fill="#fff" opacity="0.18"/>
<rect x="812.54" y="1275.60" width="14.40" height="2.0" fill="#4a6814" opacity="0.45"/>
<path d="M845.98 1257.97 H859.18 Q860.58 1257.97 860.58 1259.37 V1276.60 Q860.58 1278.00 859.18 1278.00 H845.98 Q844.58 1278.00 844.58 1276.60 V1259.37 Q844.58 1257.97 845.98 1257.97 Z" fill="url(#g21)"/>
<path d="M845.98 1257.97 H859.18 Q860.58 1257.97 860.58 1259.37 V1276.60 Q860.58 1278.00 859.18 1278.00 H845.98 Q844.58 1278.00 844.58 1276.60 V1259.37 Q844.58 1257.97 845.98 1257.97 Z" fill="url(#vd)"/>
<rect x="845.18" y="1258.37" width="14.80" height="10.00" fill="url(#tf)"/>
<path d="M848.78 1260.57 L856.38 1260.57 L852.58 1266.57 Z" fill="#ac8ce2" opacity="0.9" filter="url(#sb2)"/>
<rect x="849.58" y="1273.40" width="6" height="1" fill="#fff" opacity="0.18"/>
<rect x="845.38" y="1275.60" width="14.40" height="2.0" fill="#3e2764" opacity="0.45"/>
<path d="M878.82 1257.97 H892.02 Q893.42 1257.97 893.42 1259.37 V1276.60 Q893.42 1278.00 892.02 1278.00 H878.82 Q877.42 1278.00 877.42 1276.60 V1259.37 Q877.42 1257.97 878.82 1257.97 Z" fill="url(#g22)"/>
<path d="M878.82 1257.97 H892.02 Q893.42 1257.97 893.42 1259.37 V1276.60 Q893.42 1278.00 892.02 1278.00 H878.82 Q877.42 1278.00 877.42 1276.60 V1259.37 Q877.42 1257.97 878.82 1257.97 Z" fill="url(#vd)"/>
<rect x="878.02" y="1258.37" width="14.80" height="10.00" fill="url(#tf)"/>
<path d="M881.62 1260.57 L889.22 1260.57 L885.42 1266.57 Z" fill="#72dbf7" opacity="0.9" filter="url(#sb2)"/>
<rect x="882.42" y="1273.40" width="6" height="1" fill="#fff" opacity="0.18"/>
<rect x="878.22" y="1275.60" width="14.40" height="2.0" fill="#126075" opacity="0.45"/>
<path d="M911.66 1237.13 H924.86 Q926.26 1237.13 926.26 1238.53 V1276.60 Q926.26 1278.00 924.86 1278.00 H911.66 Q910.26 1278.00 910.26 1276.60 V1238.53 Q910.26 1237.13 911.66 1237.13 Z" fill="url(#g23)"/>
<path d="M911.66 1237.13 H924.86 Q926.26 1237.13 926.26 1238.53 V1276.60 Q926.26 1278.00 924.86 1278.00 H911.66 Q910.26 1278.00 910.26 1276.60 V1238.53 Q910.26 1237.13 911.66 1237.13 Z" fill="url(#vd)"/>
<rect x="910.86" y="1237.53" width="14.80" height="10.00" fill="url(#tf)"/>
<path d="M914.46 1239.73 L922.06 1239.73 L918.26 1245.73 Z" fill="#ffbc7e" opacity="0.9" filter="url(#sb2)"/>
<rect x="915.26" y="1273.40" width="6" height="1" fill="#fff" opacity="0.18"/>
<rect x="911.06" y="1275.60" width="14.40" height="2.0" fill="#944905" opacity="0.45"/>
<polygon points="129.2,20 137.2,20 149.2,1309 141.2,1309" fill="#000"/>
<rect x="148.3" y="1308" width="825.4" height="7.7" fill="#000"/>
<text y="40.20" font-family="Liberation Sans, sans-serif" font-size="33" fill="#000" stroke="#000" stroke-width="0.3"><tspan x="74.86" textLength="37.50" lengthAdjust="spacingAndGlyphs">60</tspan></text>
<text y="248.05" font-family="Liberation Sans, sans-serif" font-size="33" fill="#000" stroke="#000" stroke-width="0.3"><tspan x="74.86" textLength="37.50" lengthAdjust="spacingAndGlyphs">50</tspan></text>
<text y="455.90" font-family="Liberation Sans, sans-serif" font-size="33" fill="#000" stroke="#000" stroke-width="0.3"><tspan x="75.91" textLength="36.39" lengthAdjust="spacingAndGlyphs">40</tspan></text>
<text y="663.75" font-family="Liberation Sans, sans-serif" font-size="33" fill="#000" stroke="#000" stroke-width="0.3"><tspan x="75.91" textLength="36.39" lengthAdjust="spacingAndGlyphs">30</tspan></text>
<text y="871.60" font-family="Liberation Sans, sans-serif" font-size="33" fill="#000" stroke="#000" stroke-width="0.3"><tspan x="74.86" textLength="37.50" lengthAdjust="spacingAndGlyphs">20</tspan></text>
<text y="1079.45" font-family="Liberation Sans, sans-serif" font-size="33" fill="#000" stroke="#000" stroke-width="0.3"><tspan x="74.86" textLength="37.50" lengthAdjust="spacingAndGlyphs">10</tspan></text>
<text y="1287.30" font-family="Liberation Sans, sans-serif" font-size="33" fill="#000" stroke="#000" stroke-width="0.3"><tspan x="93.71" textLength="18.24" lengthAdjust="spacingAndGlyphs">0</tspan></text>
<text y="1375.00" font-family="Liberation Sans, sans-serif" font-size="34" fill="#000" stroke="#000" stroke-width="0.3"><tspan x="451.23" textLength="87.66" lengthAdjust="spacingAndGlyphs">Types</tspan> <tspan x="548.67" textLength="29.27" lengthAdjust="spacingAndGlyphs">of</tspan> <tspan x="585.88" textLength="206.58" lengthAdjust="spacingAndGlyphs">presentations</tspan></text>
<text y="70.00" font-family="Liberation Sans, sans-serif" font-size="34" fill="#000" stroke="#000" stroke-width="0.3"><tspan x="981.07" textLength="85.73" lengthAdjust="spacingAndGlyphs">Chest</tspan> <tspan x="1075.72" textLength="63.09" lengthAdjust="spacingAndGlyphs">Pain</tspan></text>
<text y="142.50" font-family="Liberation Sans, sans-serif" font-size="34" fill="#000" stroke="#000" stroke-width="0.3"><tspan x="981.07" textLength="85.73" lengthAdjust="spacingAndGlyphs">Chest</tspan> <tspan x="1075.72" textLength="63.09" lengthAdjust="spacingAndGlyphs">Pain</tspan></text>
<text y="186.60" font-family="Liberation Sans, sans-serif" font-size="34" fill="#000" stroke="#000" stroke-width="0.3"><tspan x="982.90" textLength="171.55" lengthAdjust="spacingAndGlyphs">Associating</tspan></text>
<text y="230.50" font-family="Liberation Sans, sans-serif" font-size="34" fill="#000" stroke="#000" stroke-width="0.3"><tspan x="982.90" textLength="66.62" lengthAdjust="spacingAndGlyphs">with</tspan> <tspan x="1055.90" textLength="140.08" lengthAdjust="spacingAndGlyphs">Sweating</tspan></text>
<text y="281.40" font-family="Liberation Sans, sans-serif" font-size="34" fill="#000" stroke="#000" stroke-width="0.3"><tspan x="980.95" textLength="64.61" lengthAdjust="spacingAndGlyphs">Pain</tspan> <tspan x="1052.97" textLength="145.11" lengthAdjust="spacingAndGlyphs">Radiating</tspan></text>
<text y="325.40" font-family="Liberation Sans, sans-serif" font-size="34" fill="#000" stroke="#000" stroke-width="0.3"><tspan x="982.90" textLength="28.04" lengthAdjust="spacingAndGlyphs">to</tspan> <tspan x="1020.32" textLength="160.79" lengthAdjust="spacingAndGlyphs">Shoulders,</tspan></text>
<text y="369.50" font-family="Liberation Sans, sans-serif" font-size="34" fill="#000" stroke="#000" stroke-width="0.3"><tspan x="981.87" textLength="100.56" lengthAdjust="spacingAndGlyphs">neck,&amp;</tspan> <tspan x="1091.58" textLength="69.02" lengthAdjust="spacingAndGlyphs">back</tspan></text>
<text y="426.00" font-family="Liberation Sans, sans-serif" font-size="34" fill="#000" stroke="#000" stroke-width="0.3"><tspan x="981.58" textLength="61.89" lengthAdjust="spacingAndGlyphs">SOB</tspan></text>
<text y="545.30" font-family="Liberation Sans, sans-serif" font-size="34" fill="#000" stroke="#000" stroke-width="0.3"><tspan x="981.46" textLength="151.92" lengthAdjust="spacingAndGlyphs">Headache</tspan></text>
<text y="664.20" font-family="Liberation Sans, sans-serif" font-size="34" fill="#000" stroke="#000" stroke-width="0.3"><tspan x="981.43" textLength="147.68" lengthAdjust="spacingAndGlyphs">Diarrhoea</tspan></text>
<text y="783.00" font-family="Liberation Sans, sans-serif" font-size="34" fill="#000" stroke="#000" stroke-width="0.3"><tspan x="981.39" textLength="113.93" lengthAdjust="spacingAndGlyphs">Fatigue</tspan></text>
<text y="901.60" font-family="Liberation Sans, sans-serif" font-size="34" fill="#000" stroke="#000" stroke-width="0.3"><tspan x="981.38" textLength="177.21" lengthAdjust="spacingAndGlyphs">Palpitations</tspan></text>
<text y="1020.60" font-family="Liberation Sans, sans-serif" font-size="34" fill="#000" stroke="#000" stroke-width="0.3"><tspan x="981.32" textLength="124.31" lengthAdjust="spacingAndGlyphs">Fainting</tspan></text>
<text y="1139.40" font-family="Liberation Sans, sans-serif" font-size="34" fill="#000" stroke="#000" stroke-width="0.3"><tspan x="981.35" textLength="147.42" lengthAdjust="spacingAndGlyphs">Giddiness</tspan></text>
<text y="1258.60" font-family="Liberation Sans, sans-serif" font-size="34" fill="#000" stroke="#000" stroke-width="0.3"><tspan x="981.61" textLength="109.18" lengthAdjust="spacingAndGlyphs">Nausea</tspan></text>
<text y="1377.00" font-family="Liberation Sans, sans-serif" font-size="34" fill="#000" stroke="#000" stroke-width="0.3"><tspan x="982.40" textLength="152.15" lengthAdjust="spacingAndGlyphs">Vomitings</tspan></text>
<text y="1495.80" font-family="Liberation Sans, sans-serif" font-size="34" fill="#000" stroke="#000" stroke-width="0.3"><tspan x="981.31" textLength="53.82" lengthAdjust="spacingAndGlyphs">Jaw</tspan> <tspan x="1045.81" textLength="65.47" lengthAdjust="spacingAndGlyphs">Pain</tspan></text>
<text y="80.00" font-family="Liberation Sans, sans-serif" font-size="33" fill="#000" stroke="#000" stroke-width="0.3"><tspan x="143.39" textLength="36.94" lengthAdjust="spacingAndGlyphs">56</tspan></text>
<text y="662.00" font-family="Liberation Sans, sans-serif" font-size="33" fill="#000" stroke="#000" stroke-width="0.3"><tspan x="175.65" textLength="37.72" lengthAdjust="spacingAndGlyphs">28</tspan></text>
<text y="932.00" font-family="Liberation Sans, sans-serif" font-size="33" fill="#000" stroke="#000" stroke-width="0.3"><tspan x="210.51" textLength="34.72" lengthAdjust="spacingAndGlyphs">15</tspan></text>
<text y="1015.70" font-family="Liberation Sans, sans-serif" font-size="33" fill="#000" stroke="#000" stroke-width="0.3"><tspan x="242.82" textLength="35.41" lengthAdjust="spacingAndGlyphs" letter-spacing="2.54">11</tspan></text>
<text y="1160.80" font-family="Liberation Sans, sans-serif" font-size="33" fill="#000" stroke="#000" stroke-width="0.3"><tspan x="284.29" textLength="18.59" lengthAdjust="spacingAndGlyphs">4</tspan></text>
<text y="1201.60" font-family="Liberation Sans, sans-serif" font-size="33" fill="#000" stroke="#000" stroke-width="0.3"><tspan x="316.41" textLength="18.24" lengthAdjust="spacingAndGlyphs">2</tspan></text>
<text y="1139.90" font-family="Liberation Sans, sans-serif" font-size="33" fill="#000" stroke="#000" stroke-width="0.3"><tspan x="349.69" textLength="17.50" lengthAdjust="spacingAndGlyphs">5</tspan></text>
<text y="1056.80" font-family="Liberation Sans, sans-serif" font-size="33" fill="#000" stroke="#000" stroke-width="0.3"><tspan x="383.21" textLength="17.38" lengthAdjust="spacingAndGlyphs">9</tspan></text>
<text y="1140.00" font-family="Liberation Sans, sans-serif" font-size="33" fill="#000" stroke="#000" stroke-width="0.3"><tspan x="415.81" textLength="17.38" lengthAdjust="spacingAndGlyphs">5</tspan></text>
<text y="1181.30" font-family="Liberation Sans, sans-serif" font-size="33" fill="#000" stroke="#000" stroke-width="0.3"><tspan x="448.79" textLength="16.64" lengthAdjust="spacingAndGlyphs">3</tspan></text>
<text y="1098.50" font-family="Liberation Sans, sans-serif" font-size="33" fill="#000" stroke="#000" stroke-width="0.3"><tspan x="481.57" textLength="16.77" lengthAdjust="spacingAndGlyphs">7</tspan></text>
<text y="1119.20" font-family="Liberation Sans, sans-serif" font-size="33" fill="#000" stroke="#000" stroke-width="0.3"><tspan x="513.31" textLength="19.22" lengthAdjust="spacingAndGlyphs">6</tspan></text>
<text y="1140.00" font-family="Liberation Sans, sans-serif" font-size="33" fill="#000" stroke="#000" stroke-width="0.3"><tspan x="546.97" textLength="17.75" lengthAdjust="spacingAndGlyphs">5</tspan></text>
<text y="1202.00" font-family="Liberation Sans, sans-serif" font-size="33" fill="#000" stroke="#000" stroke-width="0.3"><tspan x="578.92" textLength="19.09" lengthAdjust="spacingAndGlyphs">2</tspan></text>
<text y="1180.90" font-family="Liberation Sans, sans-serif" font-size="33" fill="#000" stroke="#000" stroke-width="0.3"><tspan x="613.26" textLength="17.33" lengthAdjust="spacingAndGlyphs">3</tspan></text>
<text y="1202.00" font-family="Liberation Sans, sans-serif" font-size="33" fill="#000" stroke="#000" stroke-width="0.3"><tspan x="644.71" textLength="19.22" lengthAdjust="spacingAndGlyphs">2</tspan></text>
<text y="1202.00" font-family="Liberation Sans, sans-serif" font-size="33" fill="#000" stroke="#000" stroke-width="0.3"><tspan x="677.67" textLength="19.58" lengthAdjust="spacingAndGlyphs">2</tspan></text>
<text y="1223.50" font-family="Liberation Sans, sans-serif" font-size="33" fill="#000" stroke="#000" stroke-width="0.3"><tspan x="712.64" textLength="16.16" lengthAdjust="spacingAndGlyphs">1</tspan></text>
<text y="1223.50" font-family="Liberation Sans, sans-serif" font-size="33" fill="#000" stroke="#000" stroke-width="0.3"><tspan x="745.48" textLength="16.16" lengthAdjust="spacingAndGlyphs">1</tspan></text>
<text y="1202.00" font-family="Liberation Sans, sans-serif" font-size="33" fill="#000" stroke="#000" stroke-width="0.3"><tspan x="776.81" textLength="19.22" lengthAdjust="spacingAndGlyphs">2</tspan></text>
<text y="1202.00" font-family="Liberation Sans, sans-serif" font-size="33" fill="#000" stroke="#000" stroke-width="0.3"><tspan x="809.41" textLength="19.22" lengthAdjust="spacingAndGlyphs">2</tspan></text>
<text y="1223.50" font-family="Liberation Sans, sans-serif" font-size="33" fill="#000" stroke="#000" stroke-width="0.3"><tspan x="844.00" textLength="16.16" lengthAdjust="spacingAndGlyphs">1</tspan></text>
<text y="1223.50" font-family="Liberation Sans, sans-serif" font-size="33" fill="#000" stroke="#000" stroke-width="0.3"><tspan x="876.84" textLength="16.16" lengthAdjust="spacingAndGlyphs">1</tspan></text>
<text y="1202.00" font-family="Liberation Sans, sans-serif" font-size="33" fill="#000" stroke="#000" stroke-width="0.3"><tspan x="907.53" textLength="19.95" lengthAdjust="spacingAndGlyphs">2</tspan></text>
<text transform="translate(50.3 758.6) rotate(-90)" y="0" font-family="Liberation Sans, sans-serif" font-size="34" fill="#000" stroke="#000" stroke-width="0.3"><tspan x="-2.56" textLength="80.12" lengthAdjust="spacingAndGlyphs">No.of</tspan> <tspan x="88.09" textLength="119.81" lengthAdjust="spacingAndGlyphs">patients</tspan></text>
<g>
<linearGradient id="s70" x1="0" y1="0" x2="0" y2="1"><stop offset="0" stop-color="#3174d1"/><stop offset="0.5" stop-color="#3568ae"/><stop offset="0.85" stop-color="#2f5c99"/><stop offset="1" stop-color="#244776"/></linearGradient>
<rect x="955.20" y="51.70" width="18.80" height="18.90" fill="url(#s70)"/>
<path d="M956.20 52.50 L973.00 52.50 L964.60 61.65 Z" fill="#3f83e1" opacity="0.35"/>
<path d="M960.20 54.30 L969.00 54.30 L964.60 59.35 Z" fill="#8db3e7" filter="url(#sb)"/>
<path d="M974.00 51.70 L974.00 70.60 L964.60 61.15 Z" fill="#25497a" opacity="0.16"/>
<rect x="955.20" y="51.70" width="1.2" height="18.90" fill="#25497a" opacity="0.45"/>
<rect x="972.60" y="51.70" width="1.4" height="18.90" fill="#224471" opacity="0.55"/>
</g>
<g>
<linearGradient id="s143" x1="0" y1="0" x2="0" y2="1"><stop offset="0" stop-color="#d5403e"/><stop offset="0.5" stop-color="#bc3a38"/><stop offset="0.85" stop-color="#a53331"/><stop offset="1" stop-color="#802726"/></linearGradient>
<rect x="955.20" y="124.70" width="18.80" height="18.90" fill="url(#s143)"/>
<path d="M956.20 125.50 L973.00 125.50 L964.60 134.65 Z" fill="#e44f4d" opacity="0.35"/>
<path d="M960.20 127.30 L969.00 127.30 L964.60 132.35 Z" fill="#e99897" filter="url(#sb)"/>
<path d="M974.00 124.70 L974.00 143.60 L964.60 134.15 Z" fill="#842927" opacity="0.16"/>
<rect x="955.20" y="124.70" width="1.2" height="18.90" fill="#842927" opacity="0.45"/>
<rect x="972.60" y="124.70" width="1.4" height="18.90" fill="#7a2624" opacity="0.55"/>
</g>
<g>
<linearGradient id="s281" x1="0" y1="0" x2="0" y2="1"><stop offset="0" stop-color="#9bcb3b"/><stop offset="0.5" stop-color="#86ab3c"/><stop offset="0.85" stop-color="#769635"/><stop offset="1" stop-color="#5b7429"/></linearGradient>
<rect x="955.20" y="263.20" width="18.80" height="18.90" fill="url(#s281)"/>
<path d="M956.20 264.00 L973.00 264.00 L964.60 273.15 Z" fill="#abdc48" opacity="0.35"/>
<path d="M960.20 265.80 L969.00 265.80 L964.60 270.85 Z" fill="#c9e493" filter="url(#sb)"/>
<path d="M974.00 263.20 L974.00 282.10 L964.60 272.65 Z" fill="#5e782a" opacity="0.16"/>
<rect x="955.20" y="263.20" width="1.2" height="18.90" fill="#5e782a" opacity="0.45"/>
<rect x="972.60" y="263.20" width="1.4" height="18.90" fill="#576f27" opacity="0.55"/>
</g>
<g>
<linearGradient id="s426" x1="0" y1="0" x2="0" y2="1"><stop offset="0" stop-color="#7b56ba"/><stop offset="0.5" stop-color="#6f52a0"/><stop offset="0.85" stop-color="#62488d"/><stop offset="1" stop-color="#4b386d"/></linearGradient>
<rect x="955.20" y="407.70" width="18.80" height="18.90" fill="url(#s426)"/>
<path d="M956.20 408.50 L973.00 408.50 L964.60 417.65 Z" fill="#8a62ce" opacity="0.35"/>
<path d="M960.20 410.30 L969.00 410.30 L964.60 415.35 Z" fill="#b8a4dc" filter="url(#sb)"/>
<path d="M974.00 407.70 L974.00 426.60 L964.60 417.15 Z" fill="#4e3970" opacity="0.16"/>
<rect x="955.20" y="407.70" width="1.2" height="18.90" fill="#4e3970" opacity="0.45"/>
<rect x="972.60" y="407.70" width="1.4" height="18.90" fill="#483568" opacity="0.55"/>
</g>
<g>
<linearGradient id="s545" x1="0" y1="0" x2="0" y2="1"><stop offset="0" stop-color="#27b6de"/><stop offset="0.5" stop-color="#2a9cbc"/><stop offset="0.85" stop-color="#2589a5"/><stop offset="1" stop-color="#1d6a80"/></linearGradient>
<rect x="955.20" y="526.70" width="18.80" height="18.90" fill="url(#s545)"/>
<path d="M956.20 527.50 L973.00 527.50 L964.60 536.65 Z" fill="#36c5ed" opacity="0.35"/>
<path d="M960.20 529.30 L969.00 529.30 L964.60 534.35 Z" fill="#88d8ee" filter="url(#sb)"/>
<path d="M974.00 526.70 L974.00 545.60 L964.60 536.15 Z" fill="#1d6d84" opacity="0.16"/>
<rect x="955.20" y="526.70" width="1.2" height="18.90" fill="#1d6d84" opacity="0.45"/>
<rect x="972.60" y="526.70" width="1.4" height="18.90" fill="#1b657a" opacity="0.55"/>
</g>
<g>
<linearGradient id="s664" x1="0" y1="0" x2="0" y2="1"><stop offset="0" stop-color="#f2933b"/><stop offset="0.5" stop-color="#e4842a"/><stop offset="0.85" stop-color="#c97425"/><stop offset="1" stop-color="#9b5a1d"/></linearGradient>
<rect x="955.20" y="645.70" width="18.80" height="18.90" fill="url(#s664)"/>
<path d="M956.20 646.50 L973.00 646.50 L964.60 655.65 Z" fill="#fda34e" opacity="0.35"/>
<path d="M960.20 648.30 L969.00 648.30 L964.60 653.35 Z" fill="#f9c89a" filter="url(#sb)"/>
<path d="M974.00 645.70 L974.00 664.60 L964.60 655.15 Z" fill="#a05c1d" opacity="0.16"/>
<rect x="955.20" y="645.70" width="1.2" height="18.90" fill="#a05c1d" opacity="0.45"/>
<rect x="972.60" y="645.70" width="1.4" height="18.90" fill="#94561b" opacity="0.55"/>
</g>
<g>
<linearGradient id="s783" x1="0" y1="0" x2="0" y2="1"><stop offset="0" stop-color="#2059a2"/><stop offset="0.5" stop-color="#234c80"/><stop offset="0.85" stop-color="#1f4371"/><stop offset="1" stop-color="#183457"/></linearGradient>
<rect x="955.20" y="764.70" width="18.80" height="18.90" fill="url(#s783)"/>
<path d="M956.20 765.50 L973.00 765.50 L964.60 774.65 Z" fill="#1a66c6" opacity="0.35"/>
<path d="M960.20 767.30 L969.00 767.30 L964.60 772.35 Z" fill="#639ce2" filter="url(#sb)"/>
<path d="M974.00 764.70 L974.00 783.60 L964.60 774.15 Z" fill="#18355a" opacity="0.16"/>
<rect x="955.20" y="764.70" width="1.2" height="18.90" fill="#18355a" opacity="0.45"/>
<rect x="972.60" y="764.70" width="1.4" height="18.90" fill="#173153" opacity="0.55"/>
</g>
<g>
<linearGradient id="s901" x1="0" y1="0" x2="0" y2="1"><stop offset="0" stop-color="#ac2522"/><stop offset="0.5" stop-color="#8a2826"/><stop offset="0.85" stop-color="#792321"/><stop offset="1" stop-color="#5e1b1a"/></linearGradient>
<rect x="955.20" y="883.20" width="18.80" height="18.90" fill="url(#s901)"/>
<path d="M956.20 884.00 L973.00 884.00 L964.60 893.15 Z" fill="#d21f1b" opacity="0.35"/>
<path d="M960.20 885.80 L969.00 885.80 L964.60 890.85 Z" fill="#e46e6c" filter="url(#sb)"/>
<path d="M974.00 883.20 L974.00 902.10 L964.60 892.65 Z" fill="#611c1b" opacity="0.16"/>
<rect x="955.20" y="883.20" width="1.2" height="18.90" fill="#611c1b" opacity="0.45"/>
<rect x="972.60" y="883.20" width="1.4" height="18.90" fill="#5a1a19" opacity="0.55"/>
</g>
<g>
<linearGradient id="s1020" x1="0" y1="0" x2="0" y2="1"><stop offset="0" stop-color="#79a02a"/><stop offset="0.5" stop-color="#647f2c"/><stop offset="0.85" stop-color="#587027"/><stop offset="1" stop-color="#44561e"/></linearGradient>
<rect x="955.20" y="1002.20" width="18.80" height="18.90" fill="url(#s1020)"/>
<path d="M956.20 1003.00 L973.00 1003.00 L964.60 1012.15 Z" fill="#90c425" opacity="0.35"/>
<path d="M960.20 1004.80 L969.00 1004.80 L964.60 1009.85 Z" fill="#b9dc70" filter="url(#sb)"/>
<path d="M974.00 1002.20 L974.00 1021.10 L964.60 1011.65 Z" fill="#46591f" opacity="0.16"/>
<rect x="955.20" y="1002.20" width="1.2" height="18.90" fill="#46591f" opacity="0.45"/>
<rect x="972.60" y="1002.20" width="1.4" height="18.90" fill="#41531d" opacity="0.55"/>
</g>
<g>
<linearGradient id="s1139" x1="0" y1="0" x2="0" y2="1"><stop offset="0" stop-color="#59388e"/><stop offset="0.5" stop-color="#4d3870"/><stop offset="0.85" stop-color="#443163"/><stop offset="1" stop-color="#34264c"/></linearGradient>
<rect x="955.20" y="1121.00" width="18.80" height="18.90" fill="url(#s1139)"/>
<path d="M956.20 1121.80 L973.00 1121.80 L964.60 1130.95 Z" fill="#6335b0" opacity="0.35"/>
<path d="M960.20 1123.60 L969.00 1123.60 L964.60 1128.65 Z" fill="#9b7cce" filter="url(#sb)"/>
<path d="M974.00 1121.00 L974.00 1139.90 L964.60 1130.45 Z" fill="#36274e" opacity="0.16"/>
<rect x="955.20" y="1121.00" width="1.2" height="18.90" fill="#36274e" opacity="0.45"/>
<rect x="972.60" y="1121.00" width="1.4" height="18.90" fill="#322449" opacity="0.55"/>
</g>
<g>
<linearGradient id="s1258" x1="0" y1="0" x2="0" y2="1"><stop offset="0" stop-color="#1b8eab"/><stop offset="0.5" stop-color="#1f7388"/><stop offset="0.85" stop-color="#1b6578"/><stop offset="1" stop-color="#154e5c"/></linearGradient>
<rect x="955.20" y="1240.20" width="18.80" height="18.90" fill="url(#s1258)"/>
<path d="M956.20 1241.00 L973.00 1241.00 L964.60 1250.15 Z" fill="#14abd1" opacity="0.35"/>
<path d="M960.20 1242.80 L969.00 1242.80 L964.60 1247.85 Z" fill="#61cde8" filter="url(#sb)"/>
<path d="M974.00 1240.20 L974.00 1259.10 L964.60 1249.65 Z" fill="#16505f" opacity="0.16"/>
<rect x="955.20" y="1240.20" width="1.2" height="18.90" fill="#16505f" opacity="0.45"/>
<rect x="972.60" y="1240.20" width="1.4" height="18.90" fill="#144b58" opacity="0.55"/>
</g>
<g>
<linearGradient id="s1377" x1="0" y1="0" x2="0" y2="1"><stop offset="0" stop-color="#ec6508"/><stop offset="0.5" stop-color="#c45a12"/><stop offset="0.85" stop-color="#ac4f10"/><stop offset="1" stop-color="#853d0c"/></linearGradient>
<rect x="955.20" y="1358.70" width="18.80" height="18.90" fill="url(#s1377)"/>
<path d="M956.20 1359.50 L973.00 1359.50 L964.60 1368.65 Z" fill="#ff7314" opacity="0.35"/>
<path d="M960.20 1361.30 L969.00 1361.30 L964.60 1366.35 Z" fill="#fba870" filter="url(#sb)"/>
<path d="M974.00 1358.70 L974.00 1377.60 L964.60 1368.15 Z" fill="#893f0d" opacity="0.16"/>
<rect x="955.20" y="1358.70" width="1.2" height="18.90" fill="#893f0d" opacity="0.45"/>
<rect x="972.60" y="1358.70" width="1.4" height="18.90" fill="#7f3a0c" opacity="0.55"/>
</g>
<g>
<linearGradient id="s1496" x1="0" y1="0" x2="0" y2="1"><stop offset="0" stop-color="#5589cc"/><stop offset="0.5" stop-color="#4a7ab8"/><stop offset="0.85" stop-color="#416ba2"/><stop offset="1" stop-color="#32537d"/></linearGradient>
<rect x="955.20" y="1477.70" width="18.80" height="18.90" fill="url(#s1496)"/>
<path d="M956.20 1478.50 L973.00 1478.50 L964.60 1487.65 Z" fill="#6398dc" opacity="0.35"/>
<path d="M960.20 1480.30 L969.00 1480.30 L964.60 1485.35 Z" fill="#a5c1e5" filter="url(#sb)"/>
<path d="M974.00 1477.70 L974.00 1496.60 L964.60 1487.15 Z" fill="#345581" opacity="0.16"/>
<rect x="955.20" y="1477.70" width="1.2" height="18.90" fill="#345581" opacity="0.45"/>
<rect x="972.60" y="1477.70" width="1.4" height="18.90" fill="#304f78" opacity="0.55"/>
</g>
</svg>
</body></html>
